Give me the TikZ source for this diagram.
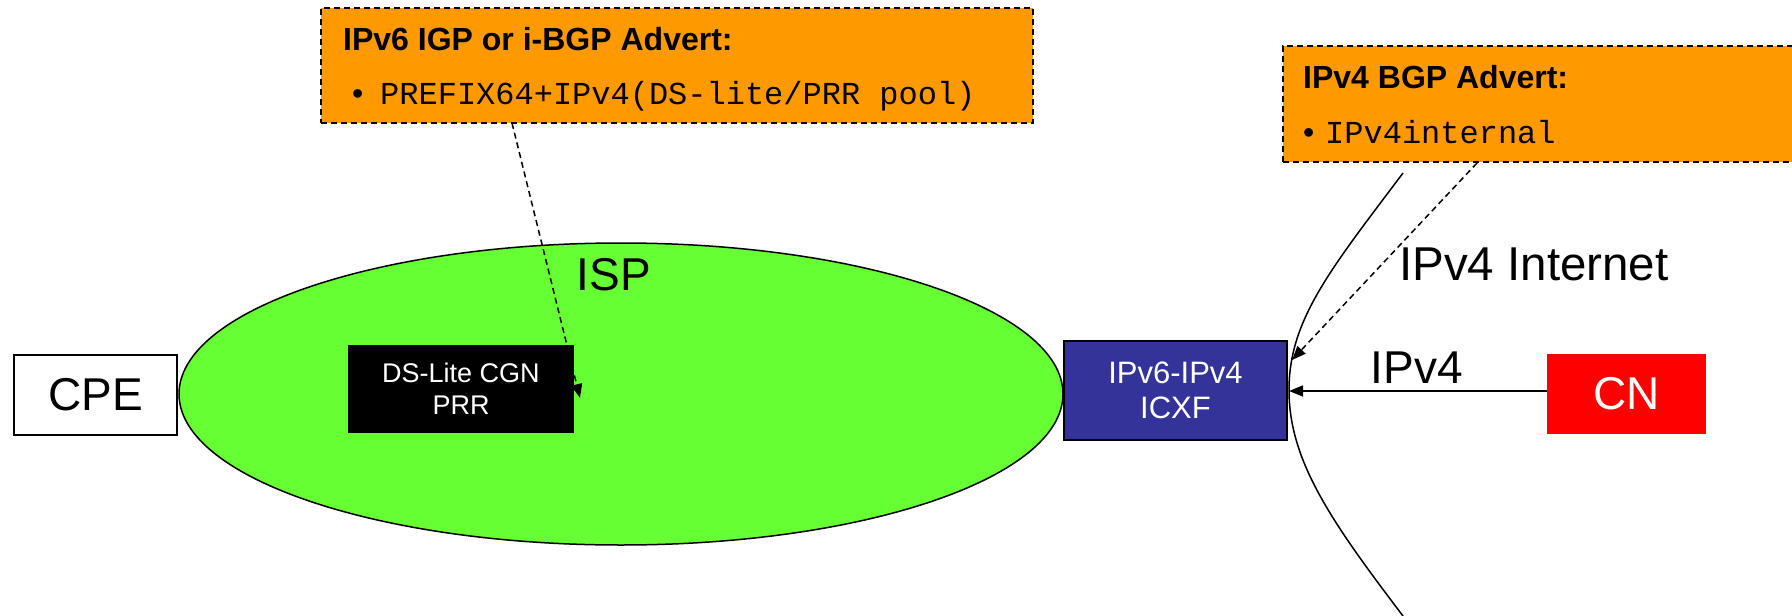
\documentclass[tikz,border=0pt]{standalone}
\usepackage{fontspec}
\setmainfont{Liberation Sans}
\setmonofont{Liberation Mono}
\usetikzlibrary{arrows.meta,shapes.geometric}
\definecolor{advert}{HTML}{FF9900}
\definecolor{ispgreen}{HTML}{66FF33}
\definecolor{icxfblue}{HTML}{333399}
\definecolor{cnred}{HTML}{FF0000}
\tikzset{
  box/.style={draw=black, line width=1.5pt, rectangle, inner sep=0pt},
  advbox/.style={draw=black, line width=1.5pt, dash pattern=on 6pt off 4pt, fill=advert, rectangle, inner sep=0pt},
  bigtxt/.style={font=\fontsize{46}{54}\selectfont, inner sep=0pt},
  advtitle/.style={font=\fontsize{32}{38}\selectfont\bfseries, inner sep=0pt, anchor=base west},
  advitem/.style={font=\fontsize{32}{38}\selectfont\ttfamily, inner sep=0pt, anchor=base west},
  advbullet/.style={font=\fontsize{32}{38}\selectfont, inner sep=0pt, anchor=base west},
  tip/.style={-{Triangle[length=14pt,width=11pt]}},
  conn/.style={line width=1.5pt}
}
\begin{document}
\begin{tikzpicture}[x=1pt,y=-1pt]
\useasboundingbox (0,0) rectangle (1792,616);

% ISP cloud
\node[draw=black, line width=1.5pt, fill=ispgreen, ellipse, inner sep=0pt,
      minimum width=884pt, minimum height=302pt] (isp) at (621,394) {};
\node[bigtxt] (isplabel) at (614,275) {ISP};

% customer premises equipment
\node[box, fill=white, minimum width=163pt, minimum height=80pt, bigtxt] (cpe) at (95.5,395) {CPE};

% DS-Lite CGN inside the ISP
\node[box, draw=black, fill=black, text=white, minimum width=224pt, minimum height=87pt,
      align=center, font=\fontsize{27}{32}\selectfont] (cgn) at (461,389) {DS-Lite CGN\\PRR};

% interconnection function
\node[draw=black, line width=2pt, fill=icxfblue, text=white, inner sep=0pt,
      minimum width=223pt, minimum height=99pt, align=center,
      font=\fontsize{31}{35}\selectfont] (icxf) at (1175.5,390.5) {IPv6-IPv4\\ICXF};

% correspondent node
\node[fill=cnred, text=white, inner sep=0pt, minimum width=159pt, minimum height=80pt, bigtxt] (cn) at (1626.5,394) {CN};

% IPv4 Internet boundary
\draw[conn] (1403,173) .. controls (1330,270) and (1289,320) .. (1289,390)
            .. controls (1289,460) and (1330,520) .. (1403,616);
\node[font=\fontsize{47.5}{55}\selectfont, inner sep=0pt, anchor=west] (inet) at (1399,264) {IPv4 Internet};

% advertisement boxes
\node[advbox, minimum width=712pt, minimum height=115pt] (adv6) at (677,65.5) {};
\node[advtitle] (adv6t) at (343,50) {IPv6 IGP or i-BGP Advert:};
\node[advbullet] (adv6b) at (352,104) {\textbullet};
\node[advitem] (adv6i) at (380,104) {PREFIX64+IPv4(DS-lite/PRR pool)};

\node[advbox, minimum width=517pt, minimum height=116pt] (adv4) at (1541.5,104) {};
\node[advtitle] (adv4t) at (1303,88) {IPv4 BGP Advert:};
\node[advbullet] (adv4b) at (1303,143) {\textbullet};
\node[advitem] (adv4i) at (1325,143) {IPv4internal};

% connectors
\coordinate (a6s) at (512,123);
\coordinate (a6e) at (580,398);
\draw[conn, dash pattern=on 6pt off 4pt, tip] (a6s) -- (a6e);

\coordinate (a4s) at (1477,163);
\coordinate (a4e) at (1292,360);
\draw[conn, dash pattern=on 6pt off 4pt, tip] (a4s) -- (a4e);

\coordinate (cnin) at (1289,391);
\draw[conn, tip] (cn.west |- cnin) -- (cnin);
\node[bigtxt] (v4label) at (1417,368) {IPv4};
\end{tikzpicture}
\end{document}
